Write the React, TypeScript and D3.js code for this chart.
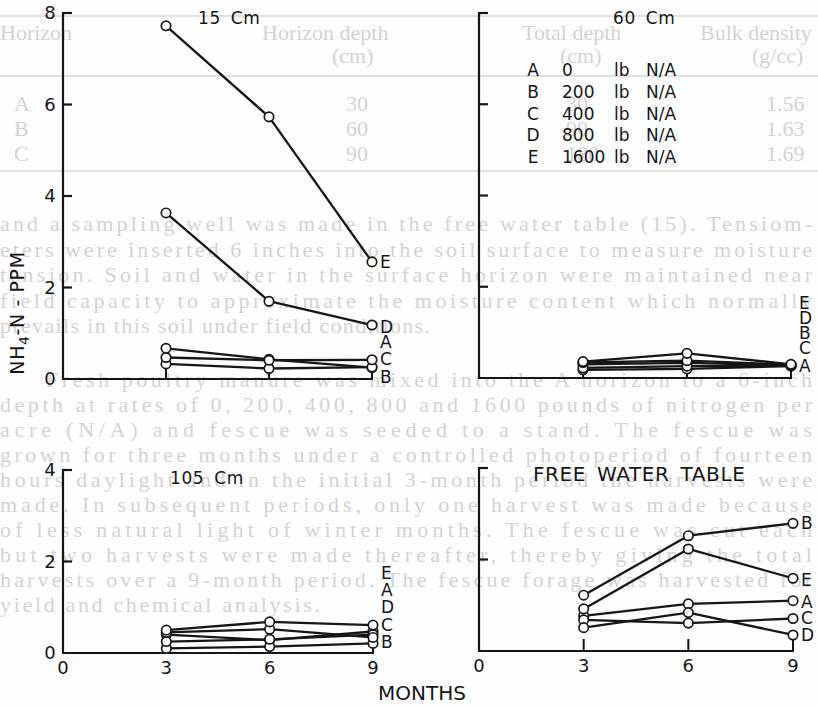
import React from 'react';
import * as d3 from 'd3';

const MONTHS = [3, 6, 9];
const X_TICKS = [0, 3, 6, 9];
const SERIES = ['A', 'B', 'C', 'D', 'E'];
const RATES = ['0', '200', '400', '800', '1600'];

// NH4-N in ppm, one row per series A..E, columns = months 3, 6, 9
const CM15 = [
  [0.67, 0.43, 0.25],
  [0.33, 0.23, 0.26],
  [0.47, 0.41, 0.42],
  [3.63, 1.7, 1.18],
  [7.72, 5.73, 2.56],
];
const CM60 = [
  [0.18, 0.2, 0.26],
  [0.3, 0.33, 0.28],
  [0.22, 0.26, 0.27],
  [0.34, 0.38, 0.29],
  [0.36, 0.54, 0.3],
];
const CM105 = [
  [0.4, 0.28, 0.47],
  [0.1, 0.14, 0.21],
  [0.25, 0.3, 0.4],
  [0.45, 0.52, 0.34],
  [0.5, 0.68, 0.61],
];
const FREE_WATER = [
  [0.77, 1.03, 1.1],
  [1.22, 2.52, 2.79],
  [0.68, 0.61, 0.71],
  [0.51, 0.84, 0.35],
  [0.92, 2.23, 1.59],
];

// level (ppm) at which each letter A..E is printed after month 9
const CM15_TAGS = [0.81, 0.04, 0.44, 1.14, 2.56];
const CM60_TAGS = [0.26, 0.99, 0.66, 1.32, 1.64];
const CM105_TAGS = [1.38, 0.24, 0.61, 1.01, 1.75];
const FREE_WATER_TAGS = [1.07, 2.8, 0.72, 0.35, 1.55];

const TOP_TICKS = [2, 4, 6, 8];
const BOTTOM_TICKS = [2, 4];

// faint text showing through from the other side of the page
const BLEED_TOP = [
  'and a sampling well was made in the free water table (15). Tensiom-',
  'eters were inserted 6 inches into the soil surface to measure moisture',
  'tension. Soil and water in the surface horizon were maintained near',
  'field capacity to approximate the moisture content which normally',
  'prevails in this soil under field conditions.',
];
const BLEED_BOTTOM = [
  'Fresh poultry manure was mixed into the A horizon to a 6-inch',
  'depth at rates of 0, 200, 400, 800 and 1600 pounds of nitrogen per',
  'acre (N/A) and fescue was seeded to a stand. The fescue was',
  'grown for three months under a controlled photoperiod of fourteen',
  'hours daylight and in the initial 3-month period the harvests were',
  'made. In subsequent periods, only one harvest was made because',
  'of less natural light of winter months. The fescue was cut each',
  'but two harvests were made thereafter, thereby giving the total',
  'harvests over a 9-month period. The fescue forage was harvested for',
  'yield and chemical analysis.',
];

const W = 818;
const H = 707;
const FONT = '"DejaVu Sans", Verdana, sans-serif';
const INK = '#161616';
const GHOST = '#d3d3d3';

function Panel({ box, yMax, yTicks, values, tags, title, titleX, titleY, titleSize, yLabels, xLabels }) {
  const x = d3.scaleLinear().domain([0, 9]).range([box.left, box.right]);
  const y = d3.scaleLinear().domain([0, yMax]).range([box.bottom, box.top]);
  const line = d3
    .line<number>()
    .x((_, i) => x(MONTHS[i]))
    .y((d) => y(d));

  return (
    <g>
      {/* axes */}
      <line x1={x(0)} x2={x(0)} y1={y(yMax) - 1} y2={y(0)} stroke={INK} strokeWidth={2.2} />
      <line x1={x(0) - 1} x2={x(9) + 1} y1={y(0)} y2={y(0)} stroke={INK} strokeWidth={2.2} />
      {yTicks.map((t) => (
        <line key={t} x1={x(0)} x2={x(0) + 9} y1={y(t)} y2={y(t)} stroke={INK} strokeWidth={2.2} />
      ))}
      {MONTHS.map((m) => (
        <line key={m} x1={x(m)} x2={x(m)} y1={y(0)} y2={y(0) - 12} stroke={INK} strokeWidth={2} />
      ))}
      {yLabels &&
        [0, ...yTicks].map((t) => (
          <text key={t} x={x(0) - 13} y={y(t)} dy="0.36em" textAnchor="middle" fontSize={18}>
            {t}
          </text>
        ))}
      {xLabels &&
        X_TICKS.map((t) => (
          <text key={t} x={x(t)} y={y(0) + 15} dy="0.36em" textAnchor="middle" fontSize={18}>
            {t}
          </text>
        ))}
      <text x={titleX} y={titleY} fontSize={titleSize} letterSpacing={0.6} wordSpacing={4}>
        {title}
      </text>

      {/* series */}
      {values.map((row, i) => (
        <path key={SERIES[i]} d={line(row) || ''} fill="none" stroke={INK} strokeWidth={2.3} strokeLinejoin="round" />
      ))}
      {values.map((row, i) =>
        row.map((v, j) => (
          <circle key={`${i}-${j}`} cx={x(MONTHS[j])} cy={y(v)} r={4.7} fill="#fff" stroke={INK} strokeWidth={1.7} />
        ))
      )}
      {tags.map((t, i) => (
        <text key={SERIES[i]} x={x(9) + 8} y={y(t)} dy="0.36em" fontSize={17}>
          {SERIES[i]}
        </text>
      ))}
    </g>
  );
}

export default function App() {
  return (
    <div style={{ position: 'absolute', left: 0, top: 0, width: W, height: H, background: '#fff' }}>
      <svg width={W} height={H} viewBox={`0 0 ${W} ${H}`} style={{ display: 'block', fontFamily: FONT }}>
        <rect width={W} height={H} fill="#fdfdfd" />

        {/* show-through from the reverse side of the sheet */}
        <g fill={GHOST} fontFamily='"Liberation Serif", serif' fontSize={22}>
          <line x1={0} x2={W} y1={16} y2={16} stroke="#e2e2e2" strokeWidth={2} />
          <line x1={0} x2={W} y1={76} y2={76} stroke="#e2e2e2" strokeWidth={2} />
          <line x1={0} x2={W} y1={171} y2={171} stroke="#e2e2e2" strokeWidth={2} />
          <text x={0} y={40}>Horizon</text>
          <text x={262} y={40}>Horizon depth</text>
          <text x={522} y={40}>Total depth</text>
          <text x={700} y={40}>Bulk density</text>
          <text x={332} y={63}>(cm)</text>
          <text x={560} y={63}>(cm)</text>
          <text x={752} y={63}>(g/cc)</text>
          {['A', 'B', 'C'].map((h, i) => (
            <g key={h}>
              <text x={14} y={111 + i * 25}>{h}</text>
              <text x={346} y={111 + i * 25}>{['30', '60', '90'][i]}</text>
              <text x={566} y={111 + i * 25}>{['30', '90', '180'][i]}</text>
              <text x={766} y={111 + i * 25}>{['1.56', '1.63', '1.69'][i]}</text>
            </g>
          ))}
          {BLEED_TOP.map((s, i) => (
            <text key={s} x={0} y={231 + i * 25.5} textLength={i < 4 ? 812 : 430} lengthAdjust="spacing">
              {s}
            </text>
          ))}
          {BLEED_BOTTOM.map((s, i) => (
            <text key={s} x={i === 0 ? 46 : 0} y={387 + i * 25} textLength={i === 0 ? 766 : i < 9 ? 812 : 320} lengthAdjust="spacing">
              {s}
            </text>
          ))}
        </g>

        <g fill={INK}>
          <Panel
            box={{ left: 63, right: 372, top: 13, bottom: 379 }}
            yMax={8}
            yTicks={TOP_TICKS}
            values={CM15}
            tags={CM15_TAGS}
            title="15 Cm"
            titleX={198}
            titleY={24}
            titleSize={17}
            yLabels
            xLabels={false}
          />
          <Panel
            box={{ left: 479, right: 791, top: 13, bottom: 378 }}
            yMax={8}
            yTicks={TOP_TICKS}
            values={CM60}
            tags={CM60_TAGS}
            title="60 Cm"
            titleX={613}
            titleY={24}
            titleSize={17}
            yLabels={false}
            xLabels={false}
          />
          <Panel
            box={{ left: 63, right: 373, top: 470, bottom: 653 }}
            yMax={4}
            yTicks={BOTTOM_TICKS}
            values={CM105}
            tags={CM105_TAGS}
            title="105 Cm"
            titleX={170}
            titleY={484}
            titleSize={17}
            yLabels
            xLabels
          />
          <Panel
            box={{ left: 479, right: 793, top: 468, bottom: 651 }}
            yMax={4}
            yTicks={BOTTOM_TICKS}
            values={FREE_WATER}
            tags={FREE_WATER_TAGS}
            title="FREE WATER TABLE"
            titleX={533}
            titleY={481}
            titleSize={20}
            yLabels={false}
            xLabels
          />

          {/* legend */}
          {SERIES.map((s, i) => (
            <g key={s} fontSize={17}>
              <text x={533} y={76 + i * 21.8} textAnchor="middle">{s}</text>
              <text x={562} y={76 + i * 21.8}>{RATES[i]}</text>
              <text x={614} y={76 + i * 21.8}>lb</text>
              <text x={646} y={76 + i * 21.8}>N/A</text>
            </g>
          ))}

          <text transform="translate(24,313) rotate(-90)" textAnchor="middle" fontSize={19} letterSpacing={0.6}>
            NH<tspan fontSize={14} dy={5}>4</tspan>
            <tspan dy={-5}>-N - PPM</tspan>
          </text>
          <text x={422} y={700} textAnchor="middle" fontSize={20}>
            MONTHS
          </text>
        </g>
      </svg>
    </div>
  );
}
